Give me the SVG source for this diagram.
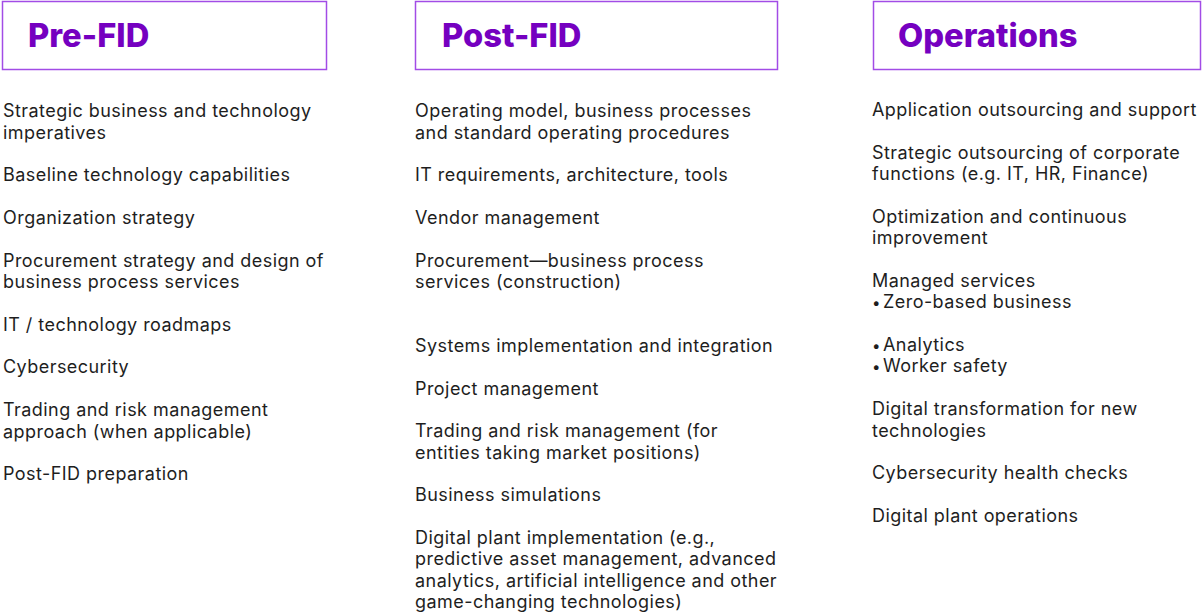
<svg xmlns="http://www.w3.org/2000/svg" width="1202" height="614" viewBox="0 0 1202 614">
<style>
.box{fill:#fff;stroke:#a24ce6;stroke-width:1.5}
.title{font-family:Inter,"Liberation Sans",sans-serif;font-weight:800;font-size:32.7px;fill:#7500c0}
.t{font-family:Inter,"Liberation Sans",sans-serif;font-size:18px;letter-spacing:0.45px;fill:#1e1e1e}
.b{font-size:15px}
</style>
<rect width="1202" height="614" fill="#fff"/>
<g id="pre-fid">
<rect class="box" x="2.5" y="1.5" width="324" height="68"/>
<text class="title" x="28" y="47">Pre-FID</text>
<text class="t" x="3" y="117">Strategic business and technology</text>
<text class="t" x="3" y="139">imperatives</text>
<text class="t" x="3" y="181">Baseline technology capabilities</text>
<text class="t" x="3" y="224">Organization strategy</text>
<text class="t" x="3" y="267">Procurement strategy and design of</text>
<text class="t" x="3" y="288">business process services</text>
<text class="t" x="3" y="331">IT / technology roadmaps</text>
<text class="t" x="3" y="373">Cybersecurity</text>
<text class="t" x="3" y="416">Trading and risk management</text>
<text class="t" x="3" y="438">approach (when applicable)</text>
<text class="t" x="3" y="480">Post-FID preparation</text>
</g>
<g id="post-fid">
<rect class="box" x="415.5" y="1.5" width="362" height="68"/>
<text class="title" x="442" y="47">Post-FID</text>
<text class="t" x="415" y="117">Operating model, business processes</text>
<text class="t" x="415" y="139">and standard operating procedures</text>
<text class="t" x="415" y="181">IT requirements, architecture, tools</text>
<text class="t" x="415" y="224">Vendor management</text>
<text class="t" x="415" y="267">Procurement—business process</text>
<text class="t" x="415" y="288">services (construction)</text>
<text class="t" x="415" y="352">Systems implementation and integration</text>
<text class="t" x="415" y="395">Project management</text>
<text class="t" x="415" y="437">Trading and risk management (for</text>
<text class="t" x="415" y="459">entities taking market positions)</text>
<text class="t" x="415" y="501">Business simulations</text>
<text class="t" x="415" y="544">Digital plant implementation (e.g.,</text>
<text class="t" x="415" y="565">predictive asset management, advanced</text>
<text class="t" x="415" y="587">analytics, artificial intelligence and other</text>
<text class="t" x="415" y="608">game-changing technologies)</text>
</g>
<g id="operations">
<rect class="box" x="873.5" y="1.5" width="327" height="68"/>
<text class="title" x="898" y="47">Operations</text>
<text class="t" x="872" y="116">Application outsourcing and support</text>
<text class="t" x="872" y="159">Strategic outsourcing of corporate</text>
<text class="t" x="872" y="180">functions (e.g. IT, HR, Finance)</text>
<text class="t" x="872" y="223">Optimization and continuous</text>
<text class="t" x="872" y="244">improvement</text>
<text class="t" x="872" y="287">Managed services</text>
<text class="t" x="872" y="308"><tspan class="b">•</tspan> <tspan x="883">Zero-based business</tspan></text>
<text class="t" x="872" y="351"><tspan class="b">•</tspan> <tspan x="883">Analytics</tspan></text>
<text class="t" x="872" y="372"><tspan class="b">•</tspan> <tspan x="883">Worker safety</tspan></text>
<text class="t" x="872" y="415">Digital transformation for new</text>
<text class="t" x="872" y="437">technologies</text>
<text class="t" x="872" y="479">Cybersecurity health checks</text>
<text class="t" x="872" y="522">Digital plant operations</text>
</g>
<g id="connectors"/>
</svg>
